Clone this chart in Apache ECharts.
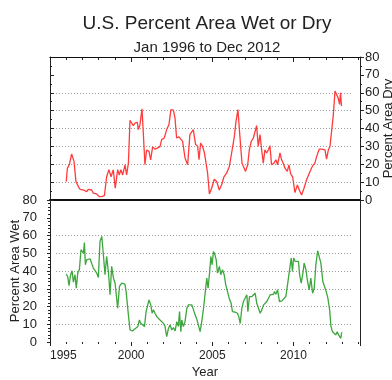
<!DOCTYPE html>
<html><head><meta charset="utf-8">
<script src="https://cdn.jsdelivr.net/npm/echarts@6/dist/echarts.min.js"></script>
<style>html,body{margin:0;padding:0;background:#fff}#c{width:392px;height:380px}</style>
</head><body><div id="c"></div>
<script>
const dryYears = [1996.00,1996.07,1996.19,1996.33,1996.48,1996.60,1996.75,1996.85,1996.95,1997.05,1997.26,1997.36,1997.57,1997.67,1997.87,1998.04,1998.18,1998.35,1998.49,1998.63,1998.76,1998.90,1999.02,1999.17,1999.27,1999.37,1999.48,1999.62,1999.72,1999.83,1999.93,2000.03,2000.13,2000.24,2000.38,2000.44,2000.54,2000.67,2000.85,2000.95,2001.10,2001.20,2001.32,2001.47,2001.61,2001.78,2001.88,2002.04,2002.19,2002.33,2002.45,2002.60,2002.70,2002.80,2002.95,2003.07,2003.17,2003.32,2003.48,2003.62,2003.73,2003.83,2003.97,2004.10,2004.18,2004.28,2004.40,2004.51,2004.61,2004.71,2004.82,2004.96,2005.12,2005.27,2005.43,2005.57,2005.72,2005.88,2006.05,2006.19,2006.36,2006.46,2006.58,2006.70,2006.83,2006.95,2007.05,2007.18,2007.28,2007.40,2007.53,2007.63,2007.73,2007.83,2007.94,2008.04,2008.14,2008.24,2008.35,2008.45,2008.55,2008.65,2008.80,2008.92,2009.02,2009.17,2009.27,2009.37,2009.48,2009.62,2009.72,2009.83,2009.95,2010.09,2010.24,2010.36,2010.50,2010.65,2010.81,2010.91,2011.02,2011.16,2011.32,2011.43,2011.59,2011.74,2011.84,2011.94,2012.04,2012.15,2012.25,2012.35,2012.45,2012.56,2012.66,2012.76,2012.84,2012.90,2012.96];
const dryValues = [10.3,17.8,19.7,25.7,21.6,10.3,7.5,6.0,7.0,5.6,4.7,6.0,5.6,3.8,3.4,1.9,1.9,2.4,13.0,17.0,13.0,16.9,6.6,17.0,14.0,17.0,14.0,19.7,14.0,20.6,44.6,44.0,41.6,43.0,43.5,39.4,42.0,51.0,19.7,28.0,27.2,22.5,29.6,28.5,29.0,30.0,33.8,34.7,39.4,42.2,50.6,50.3,46.0,34.7,35.3,36.0,32.8,23.5,19.7,36.6,36.6,39.4,31.0,30.0,22.5,31.9,30.0,26.6,25.9,15.0,3.4,6.6,11.6,10.3,5.6,8.4,13.0,15.0,18.8,26.3,35.6,44.0,50.6,35.6,20.6,19.7,16.0,19.7,28.0,32.8,34.7,35.6,41.6,30.0,36.6,28.0,20.6,28.0,26.3,28.0,30.4,19.7,20.6,22.5,19.7,26.3,22.5,20.6,17.8,16.0,19.7,14.6,13.0,4.1,8.4,5.6,2.8,6.6,11.3,10.3,16.0,18.8,20.6,24.4,28.5,28.5,27.8,28.0,22.9,28.0,30.0,38.5,46.9,61.0,62.0,57.0,53.5,60.0,52.5];
const wetYears = [1996.00,1996.09,1996.17,1996.27,1996.36,1996.44,1996.54,1996.62,1996.71,1996.81,1996.91,1996.99,1997.06,1997.12,1997.18,1997.26,1997.36,1997.47,1997.57,1997.67,1997.77,1997.88,1997.98,1998.08,1998.19,1998.29,1998.39,1998.49,1998.60,1998.70,1998.80,1998.91,1999.01,1999.11,1999.17,1999.28,1999.42,1999.62,1999.69,1999.83,1999.93,2000.08,2000.18,2000.28,2000.41,2000.51,2000.59,2000.71,2000.82,2000.92,2001.02,2001.10,2001.21,2001.29,2001.37,2001.47,2001.58,2001.68,2001.78,2001.89,2001.99,2002.09,2002.19,2002.30,2002.40,2002.50,2002.61,2002.71,2002.81,2002.91,2002.98,2003.06,2003.12,2003.22,2003.32,2003.43,2003.53,2003.63,2003.74,2003.84,2003.94,2004.04,2004.15,2004.25,2004.35,2004.46,2004.56,2004.66,2004.74,2004.83,2004.91,2004.99,2005.07,2005.15,2005.24,2005.32,2005.44,2005.52,2005.63,2005.73,2005.83,2005.94,2006.04,2006.16,2006.24,2006.41,2006.55,2006.63,2006.72,2006.82,2006.92,2007.02,2007.13,2007.19,2007.29,2007.44,2007.54,2007.64,2007.74,2007.85,2007.95,2008.05,2008.16,2008.26,2008.36,2008.46,2008.57,2008.67,2008.77,2008.83,2008.92,2009.02,2009.14,2009.29,2009.39,2009.53,2009.64,2009.76,2009.86,2009.94,2010.01,2010.11,2010.21,2010.31,2010.38,2010.48,2010.58,2010.66,2010.77,2010.87,2010.97,2011.07,2011.18,2011.28,2011.38,2011.49,2011.59,2011.69,2011.81,2011.92,2012.02,2012.12,2012.23,2012.31,2012.41,2012.50,2012.60,2012.70,2012.78,2012.86,2012.92,2012.97];
const wetValues = [38.2,36.9,31.8,37.9,40.1,33.7,37.9,30.3,38.8,40.7,52.0,52.9,50.0,56.0,43.5,46.3,45.4,46.9,46.3,41.6,42.0,38.8,36.3,56.7,59.5,49.0,37.9,48.2,39.4,26.6,42.6,36.0,33.1,34.1,19.0,31.3,33.1,32.6,28.4,15.3,6.8,6.2,6.8,7.7,8.7,12.4,10.5,11.1,8.7,17.1,17.1,23.7,20.9,16.2,18.1,16.2,14.3,15.3,12.4,13.4,10.5,8.7,3.0,7.7,9.6,6.8,8.1,6.2,11.5,8.7,17.1,5.8,12.4,8.7,11.5,19.0,20.9,21.3,20.9,20.9,15.3,13.0,13.7,5.8,11.5,19.0,27.5,36.0,30.3,38.8,48.2,43.5,51.0,49.5,46.3,38.8,42.6,37.9,40.7,37.9,32.2,33.1,24.7,21.8,17.1,16.8,16.2,14.3,10.5,19.0,22.8,21.8,26.6,17.1,25.6,25.6,24.7,27.5,21.8,22.8,16.2,18.1,20.9,21.3,22.8,22.8,26.6,26.9,26.9,28.4,26.9,29.4,22.8,23.2,23.7,25.6,32.6,33.1,47.3,39.7,47.3,45.4,46.3,45.4,37.9,33.1,38.8,44.4,40.7,34.1,29.4,36.0,27.5,30.3,43.5,51.4,50.7,44.4,34.1,33.1,28.4,24.7,18.1,8.7,5.8,6.8,4.0,5.8,4.0,4.3,2.1,5.5];
const yTicks = [0,10,20,30,40,50,60,70,80];
const xTickYears = [1995,2000,2005,2010];

const FONT = "'Liberation Sans', Arial, Helvetica, sans-serif";
const AX = '#222';
const pair = (xs, ys) => xs.map((x, i) => [x, ys[i]]);
const gridColors = yTicks.map(v => (v >= 10 && v <= 60) ? '#9a9a9a' : 'rgba(0,0,0,0)');
const xLabelFmt = v => xTickYears.indexOf(Math.round(v * 1000) / 1000) >= 0 ? String(v) : '';
const yTop = yTicks[yTicks.length - 1];

const xBase = { type: 'value', min: 1995, max: 2014.1, interval: 5, splitLine: { show: false } };
const yBase = { type: 'value', min: yTicks[0], max: yTop, interval: 10, splitLine: { show: false } };
const gridBase = { outerBoundsMode: 'none', containLabel: false };
const line = (w, c) => ({ show: true, onZero: false, lineStyle: { color: c || AX, width: w || 1 } });

const chart = echarts.init(document.getElementById('c'), null, { renderer: 'canvas' });
chart.setOption({
  animation: false,
  backgroundColor: '#fff',
  title: [
    { text: 'U.S. Percent Area Wet or Dry', left: 202, top: 9, textAlign: 'center',
      textStyle: { fontFamily: FONT, fontSize: 19, fontWeight: 'normal', color: '#222' } },
    { text: 'Jan 1996 to Dec 2012', left: 202, top: 35, textAlign: 'center',
      textStyle: { fontFamily: FONT, fontSize: 15, fontWeight: 'normal', color: '#222' } }
  ],
  grid: [
    Object.assign({ left: 50, right: 32, top: 57, height: 143 }, gridBase),
    Object.assign({ left: 50, right: 32, top: 200, height: 142 }, gridBase),
    Object.assign({ left: 56, right: 39, top: 57, height: 143 }, gridBase),
    Object.assign({ left: 56, right: 39, top: 200, height: 142 }, gridBase)
  ],
  xAxis: [
    Object.assign({}, xBase, { gridIndex: 0, position: 'bottom',
      axisLine: line(2, '#111'),
      axisTick: { show: false }, axisLabel: { show: false } }),
    Object.assign({}, xBase, { gridIndex: 0, position: 'top',
      axisLine: line(1.2, '#111'),
      axisTick: { show: true, inside: true, length: 5, lineStyle: { color: AX } },
      minorTick: { show: true, splitNumber: 5, length: 3, lineStyle: { color: AX } },
      axisLabel: { show: false } }),
    Object.assign({}, xBase, { gridIndex: 1, position: 'bottom',
      axisLine: { show: false, onZero: false },
      axisTick: { show: true, length: 4, lineStyle: { color: AX } },
      minorTick: { show: true, splitNumber: 5, length: 2, lineStyle: { color: AX } },
      axisLabel: { show: true, margin: 8, fontFamily: FONT, fontSize: 12, color: '#222', formatter: xLabelFmt, alignMinLabel: 'left' },
      name: 'Year', nameLocation: 'middle', nameGap: 24, nameMoveOverlap: false,
      nameTextStyle: { fontFamily: FONT, fontSize: 13, color: '#222' } }),
    { type: 'value', min: 1995, max: 2014.1, gridIndex: 2, show: false },
    { type: 'value', min: 1995, max: 2014.1, gridIndex: 3, show: false }
  ],
  yAxis: [
    Object.assign({}, yBase, { gridIndex: 0, position: 'left',
      axisLine: line(1),
      axisTick: { show: true, inside: true, length: 4, lineStyle: { color: AX } },
      minorTick: { show: true, splitNumber: 2, length: 2, lineStyle: { color: AX } },
      axisLabel: { show: false } }),
    Object.assign({}, yBase, { gridIndex: 0, position: 'right',
      axisLine: line(1),
      axisTick: { show: true, length: 4, lineStyle: { color: AX } },
      minorTick: { show: true, splitNumber: 2, length: 2, lineStyle: { color: AX } },
      axisLabel: { show: true, margin: 5, fontFamily: FONT, fontSize: 13, color: '#222' },
      name: 'Percent Area Dry', nameLocation: 'middle', nameRotate: 90, nameGap: 22, nameMoveOverlap: false,
      nameTextStyle: { fontFamily: FONT, fontSize: 13, color: '#222' } }),
    Object.assign({}, yBase, { gridIndex: 1, position: 'left',
      axisLine: line(1),
      axisTick: { show: true, length: 3, lineStyle: { color: AX } },
      minorTick: { show: true, splitNumber: 5, length: 2, lineStyle: { color: AX } },
      axisLabel: { show: true, margin: 13, fontFamily: FONT, fontSize: 13, color: '#222' },
      name: 'Percent Area Wet', nameLocation: 'middle', nameRotate: 90, nameGap: 28, nameMoveOverlap: false,
      nameTextStyle: { fontFamily: FONT, fontSize: 13, color: '#222' } }),
    Object.assign({}, yBase, { gridIndex: 1, position: 'right',
      axisLine: line(1),
      axisTick: { show: false }, axisLabel: { show: false } }),
    Object.assign({}, yBase, { gridIndex: 2, axisLine: { show: false }, axisTick: { show: false }, axisLabel: { show: false },
      splitLine: { show: true, lineStyle: { color: gridColors, type: [1, 2], width: 1 } } }),
    Object.assign({}, yBase, { gridIndex: 3, axisLine: { show: false }, axisTick: { show: false }, axisLabel: { show: false },
      splitLine: { show: true, lineStyle: { color: gridColors, type: [1, 2], width: 1 } } })
  ],
  series: [
    { type: 'line', xAxisIndex: 0, yAxisIndex: 0, data: pair(dryYears, dryValues),
      showSymbol: false, lineStyle: { color: '#ff3b3b', width: 1.3 }, z: 5,
      markLine: { silent: true, symbol: 'none', label: { show: false }, animation: false,
        lineStyle: { color: '#111', width: 1.2, type: 'solid' }, data: [{ yAxis: yTop }] } },
    { type: 'line', xAxisIndex: 2, yAxisIndex: 2, data: pair(wetYears, wetValues),
      showSymbol: false, lineStyle: { color: '#3da63d', width: 1.3 }, z: 5 }
  ]
});
</script></body></html>
